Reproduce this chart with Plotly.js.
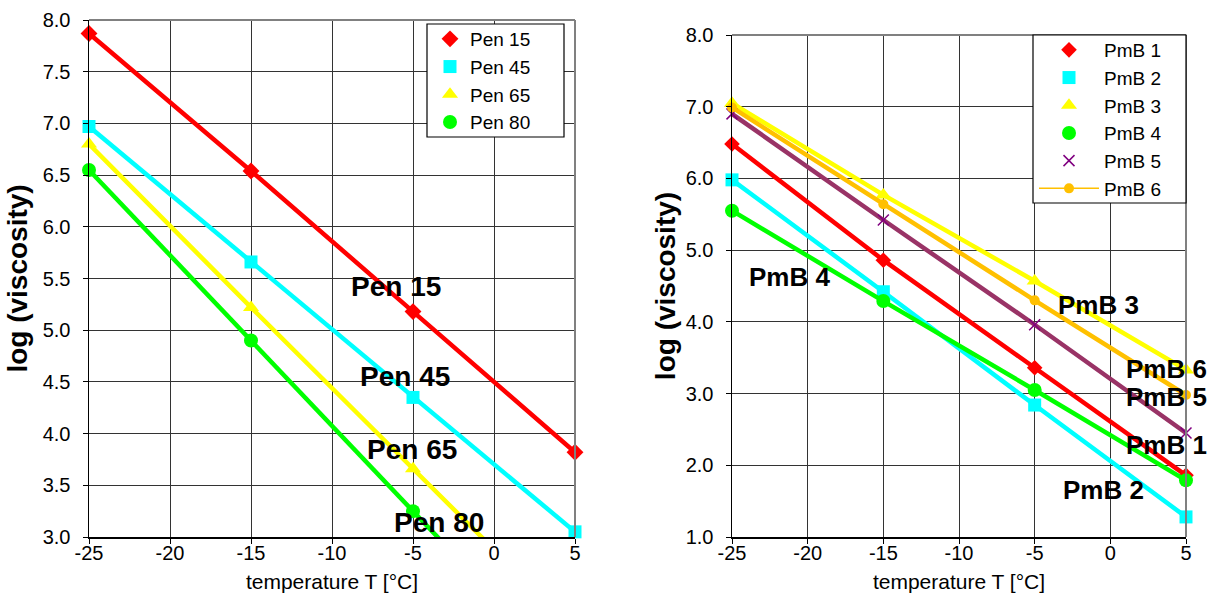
<!DOCTYPE html>
<html><head><meta charset="utf-8">
<script src="https://cdn.plot.ly/plotly-3.0.1.min.js"></script>
<style>html,body{margin:0;padding:0;background:#fff}#chart{width:1208px;height:594px}</style>
</head><body><div id="chart"></div>
<script>
// ---- data ----
const temps = [-25, -15, -5, 5];
const xTicks = [-25, -20, -15, -10, -5, 0, 5];

const penNames = ["Pen 15", "Pen 45", "Pen 65", "Pen 80"];
const pen15 = [7.87, 6.54, 5.18, 3.82];
const pen45 = [6.97, 5.66, 4.35, 3.05];
const pen65 = [6.80, 5.22, 3.66, 2.10];
const pen80 = [6.55, 4.90, 3.25, 1.60];

const pmbNames = ["PmB 1", "PmB 2", "PmB 3", "PmB 4", "PmB 5", "PmB 6"];
const pmb1 = [6.48, 4.86, 3.36, 1.86];
const pmb2 = [5.98, 4.42, 2.84, 1.28];
const pmb3 = [7.05, 5.77, 4.57, 3.33];
const pmb4 = [5.55, 4.29, 3.05, 1.79];
const pmb5 = [6.90, 5.42, 3.96, 2.45];
const pmb6 = [6.99, 5.64, 4.30, 2.98];

const penLabels = [
  {text: "Pen 15", x: -6.08, y: 5.42},
  {text: "Pen 45", x: -5.52, y: 4.55},
  {text: "Pen 65", x: -5.06, y: 3.85},
  {text: "Pen 80", x: -3.40, y: 3.14}
];
const pmbLabels = [
  {text: "PmB 4", x: -21.23, y: 4.63},
  {text: "PmB 3", x: -0.78, y: 4.23},
  {text: "PmB 6", x: 3.72, y: 3.34},
  {text: "PmB 5", x: 3.72, y: 2.95},
  {text: "PmB 1", x: 3.72, y: 2.28},
  {text: "PmB 2", x: -0.48, y: 1.66}
];

// ---- styles ----
const FONT = "Liberation Sans, Arial, sans-serif";
const penStyles = [
  {color: "#FF0000", symbol: "diamond", size: 13},
  {color: "#00FFFF", symbol: "square", size: 13},
  {color: "#FFFF00", symbol: "triangle-up", size: 14},
  {color: "#00FF00", symbol: "circle", size: 14}
];
const pmbStyles = [
  {color: "#FF0000", mcolor: "#FF0000", symbol: "diamond", size: 12},
  {color: "#00FFFF", mcolor: "#00FFFF", symbol: "square", size: 13},
  {color: "#FFFF00", mcolor: "#FFFF00", symbol: "triangle-up", size: 14},
  {color: "#00FF00", mcolor: "#00FF00", symbol: "circle", size: 14},
  {color: "#993366", mcolor: "#800080", symbol: "x-thin-open", size: 11},
  {color: "#FFC000", mcolor: "#FFC000", symbol: "circle", size: 10}
];

const penY = [3, 8];
const pmbY = [1, 8];
const traces = [];

function addSeries(name, ys, st, xa, ya, legend, yr, legendLine) {
  traces.push({x: temps, y: ys, xaxis: xa, yaxis: ya, mode: "lines", showlegend: false,
    line: {color: st.color, width: 4.5}, hoverinfo: "skip", cliponaxis: true});
  const px = [], py = [];
  ys.forEach((v, i) => { if (v >= yr[0] && v <= yr[1]) { px.push(temps[i]); py.push(v); } });
  const t = {x: px, y: py, xaxis: xa, yaxis: ya, name: name, legend: legend,
    mode: legendLine ? "lines+markers" : "markers", cliponaxis: false,
    marker: {color: st.mcolor || st.color, symbol: st.symbol, size: st.size,
      line: {color: st.mcolor || st.color, width: st.symbol.indexOf("open") >= 0 ? 1.5 : 0}}};
  if (legendLine) t.line = {color: st.color, width: 1.5};
  traces.push(t);
}

[pen15, pen45, pen65, pen80].forEach((s, i) => addSeries(penNames[i], s, penStyles[i], "x", "y", "legend", penY, false));
[pmb1, pmb2, pmb3, pmb4, pmb5, pmb6].forEach((s, i) => addSeries(pmbNames[i], s, pmbStyles[i], "x2", "y2", "legend2", pmbY, i === 5));

const annotations = [];
penLabels.forEach(l => annotations.push({x: l.x, y: l.y, xref: "x", yref: "y", text: "<b>" + l.text + "</b>",
  showarrow: false, font: {family: FONT, size: 28, color: "#000"}}));
pmbLabels.forEach(l => annotations.push({x: l.x, y: l.y, xref: "x2", yref: "y2", text: "<b>" + l.text + "</b>",
  showarrow: false, font: {family: FONT, size: 26, color: "#000"}}));

const xBase = {
  range: [-25, 5], tickvals: xTicks, ticktext: xTicks.map(String), showgrid: true, gridcolor: "#333", gridwidth: 1,
  zeroline: false, showline: true, linecolor: "#000", linewidth: 1.5, ticks: "outside", ticklen: 5, tickcolor: "#000",
  ticklabelstandoff: -8,
  tickfont: {family: FONT, size: 20, color: "#000"},
  title: {text: "temperature T [°C]", font: {family: FONT, size: 21, color: "#000"}, standoff: 12}
};
const yBase = {
  showgrid: true, gridcolor: "#333", gridwidth: 1, zeroline: false, showline: true, linecolor: "#000", linewidth: 1.5,
  ticks: "outside", ticklen: 5, tickcolor: "#000", tickfont: {family: FONT, size: 20, color: "#000"},
  ticklabelstandoff: 8
};
const yTitle = (standoff) => ({text: "<b>log (viscosity)</b>", font: {family: FONT, size: 28, color: "#000"}, standoff: standoff});

const legendCommon = {xanchor: "left", yanchor: "top", borderwidth: 0, bgcolor: "rgba(0,0,0,0)",
  font: {family: FONT, size: 19, color: "#000"}, tracegroupgap: 0};

const layout = {
  width: 1208, height: 594, margin: {l: 0, r: 0, t: 0, b: 0}, paper_bgcolor: "#fff", plot_bgcolor: "#fff",
  showlegend: true, annotations: annotations,
  xaxis: Object.assign({}, xBase, {domain: [89/1208, 575/1208], anchor: "y"}),
  yaxis: Object.assign({}, yBase, {domain: [1-537/594, 1-20/594], anchor: "x", range: penY, dtick: 0.5, tickformat: ".1f", title: yTitle(7)}),
  xaxis2: Object.assign({}, xBase, {domain: [732/1208, 1186/1208], anchor: "y2"}),
  yaxis2: Object.assign({}, yBase, {domain: [1-537/594, 1-35/594], anchor: "x2", range: pmbY, dtick: 1, tickformat: ".1f", title: yTitle(2)}),
  legend: Object.assign({}, legendCommon, {x: 430/1208, y: 1-20/594, itemwidth: 30}),
  legend2: Object.assign({}, legendCommon, {x: 1034/1208, y: 1-31/594, itemwidth: 60}),
  shapes: [
    {type: "line", xref: "x domain", yref: "y domain", x0: 0, x1: 1, y0: 1, y1: 1, line: {color: "#808080", width: 2}},
    {type: "line", xref: "x domain", yref: "y domain", x0: 1, x1: 1, y0: 0, y1: 1, line: {color: "#808080", width: 2}},
    {type: "line", xref: "x2 domain", yref: "y2 domain", x0: 0, x1: 1, y0: 1, y1: 1, line: {color: "#808080", width: 2}},
    {type: "line", xref: "x2 domain", yref: "y2 domain", x0: 1, x1: 1, y0: 0, y1: 1, line: {color: "#808080", width: 2}},
    {type: "rect", xref: "paper", yref: "paper", x0: 427/1208, x1: 564/1208, y0: 1-137/594, y1: 1-24/594,
      fillcolor: "#fff", line: {color: "#000", width: 1.2}, layer: "above"},
    {type: "rect", xref: "paper", yref: "paper", x0: 1033/1208, x1: 1186/1208, y0: 1-203/594, y1: 1-35/594,
      fillcolor: "#fff", line: {color: "#000", width: 1.2}, layer: "above"}
  ]
};

Plotly.newPlot("chart", traces, layout, {staticPlot: true});
</script></body></html>
